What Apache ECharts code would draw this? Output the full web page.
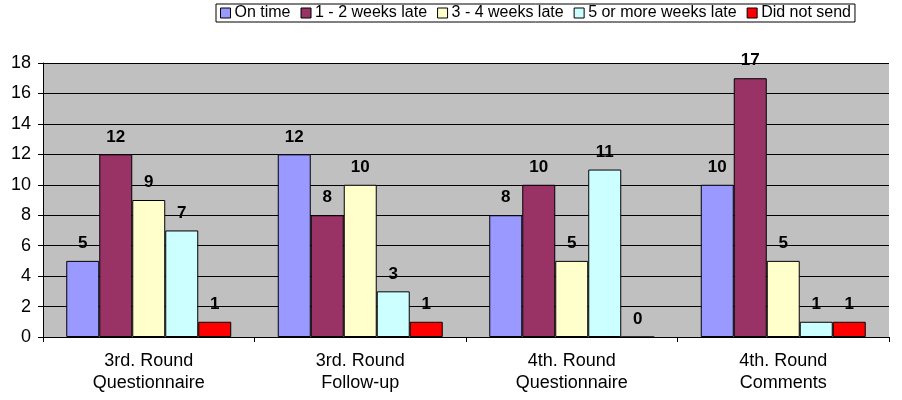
<!DOCTYPE html>
<html><head><meta charset="utf-8">
<script src="https://cdn.jsdelivr.net/npm/echarts@6/dist/echarts.min.js"></script>
<style>html,body{margin:0;padding:0;background:#fff}#c{width:902px;height:400px}</style>
</head><body><div id="c"></div>
<script>
const categories = ['3rd. Round\nQuestionnaire', '3rd. Round\nFollow-up', '4th. Round\nQuestionnaire', '4th. Round\nComments'];
const seriesNames = ['On time', '1 - 2 weeks late', '3 - 4 weeks late', '5 or more weeks late', 'Did not send'];
const onTime = [5, 12, 8, 10];
const late12 = [12, 8, 10, 17];
const late34 = [9, 10, 5, 5];
const late5plus = [7, 3, 11, 1];
const didNotSend = [1, 1, 0, 1];
const colors = ['#9999FF', '#993366', '#FFFFCC', '#CCFFFF', '#FF0000'];
const allData = [onTime, late12, late34, late5plus, didNotSend];

const chart = echarts.init(document.getElementById('c'));
const font = '"Liberation Sans", Arial, sans-serif';
chart.setOption({
  animation: false,
  textStyle: { fontFamily: font },
  color: colors,
  legend: {
    top: 4, left: 216, icon: 'rect',
    itemWidth: 10, itemHeight: 10, itemGap: 10,
    borderColor: '#000', borderWidth: 1, padding: [1, 4, 1, 4],
    textStyle: { fontFamily: font, fontSize: 16, color: '#000', padding: [0, 0, 0, -1] },
    data: seriesNames.map(n => ({ name: n, itemStyle: { borderColor: '#000', borderWidth: 1 } }))
  },
  grid: { left: 43, right: 13, top: 63, bottom: 63, show: true, backgroundColor: '#C0C0C0', borderWidth: 0 },
  xAxis: {
    type: 'category', data: categories,
    axisLine: { lineStyle: { color: '#000' } },
    axisTick: { show: true, length: 5, inside: false, lineStyle: { color: '#000' } },
    axisLabel: { color: '#000', fontSize: 18, fontFamily: font, margin: 13, lineHeight: 22 }
  },
  yAxis: {
    type: 'value', min: 0, max: 18, interval: 2,
    axisLine: { show: true, lineStyle: { color: '#000' } },
    axisTick: { show: true, length: 5, lineStyle: { color: '#000' } },
    splitLine: { lineStyle: { color: '#000', width: 1 } },
    axisLabel: { color: '#000', fontSize: 18, fontFamily: font, margin: 12 }
  },
  series: seriesNames.map((n, i) => ({
    name: n, type: 'bar', data: allData[i],
    barGap: '0%', barCategoryGap: '22%',
    itemStyle: { color: colors[i], borderColor: '#000', borderWidth: 1 },
    label: { show: true, position: 'top', distance: 9, color: '#000', fontWeight: 'bold', fontSize: 17, fontFamily: font }
  }))
});
</script>
</body></html>
